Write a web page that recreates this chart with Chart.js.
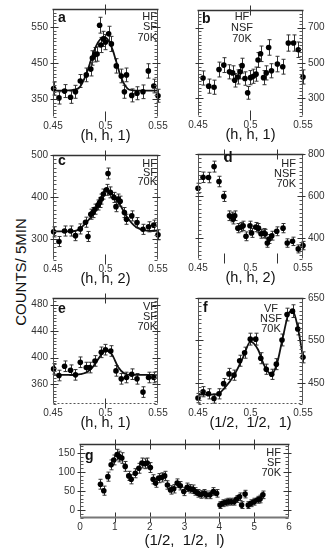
<!DOCTYPE html>
<html><head><meta charset="utf-8">
<script src="https://cdn.jsdelivr.net/npm/chart.js@4/dist/chart.umd.min.js"></script>
<style>
html,body{margin:0;padding:0;background:#fff;width:332px;height:548px;overflow:hidden;position:relative}
canvas{position:absolute}
#ylab{position:absolute;left:20px;top:272px;font:15px "Liberation Sans",Arial,sans-serif;color:#111;transform:translate(-50%,-50%) rotate(-90deg);white-space:nowrap}
</style></head><body>
<div id="ylab">COUNTS/ 5MIN</div>
<canvas id="ca"></canvas><canvas id="cb"></canvas><canvas id="cc"></canvas><canvas id="cd"></canvas><canvas id="ce"></canvas><canvas id="cf"></canvas><canvas id="cg"></canvas>
<script>
// ---------- DATA ----------
const hTickValues = [0.45, 0.5, 0.55];
const hTickLabels = ['0.45', '0.5', '0.55'];
const lTickValues = [0, 1, 2, 3, 4, 5, 6];
const lTickLabels = ['0', '1', '2', '3', '4', '5', '6'];

// panel a : HF SF 70K (h,h,1)
const aH = [0.4506,0.4557,0.461,0.4667,0.4714,0.476,0.4817,0.486,0.4875,0.4897,0.492,0.4944,0.4955,0.498,0.5,0.503,0.5056,0.5103,0.515,0.518,0.52,0.525,0.53,0.5357,0.5408,0.546,0.55];
const aCounts = [379,353,372,355,370,400,417,433,464,473,475,555,500,517,508,531,503,442,414,370,417,360,366,370,428,386,359];
const aErr = [18,17,18,17,18,18,19,19,20,20,20,22,21,21,21,21,21,20,19,18,19,18,18,19,20,19,18];
const aFitH = [0.45,0.465,0.47,0.4755,0.4817,0.4865,0.491,0.495,0.499,0.503,0.507,0.51,0.515,0.521,0.526,0.532,0.55];
const aFitCounts = [373,374,376,383,419,461,497,516,522,512,485,456,409,379,374,373,373];
const aYTicks = [350, 450, 550];

// panel b : HF NSF 70K (h,h,1)
const bH = [0.4548,0.4602,0.4653,0.47,0.4746,0.48,0.483,0.485,0.4877,0.49,0.492,0.4947,0.4973,0.5,0.5027,0.5053,0.5072,0.5096,0.5124,0.515,0.5173,0.52,0.5256,0.5307,0.536,0.541,0.5455,0.55];
const bCounts = [415,369,363,463,488,450,444,402,421,450,485,412,331,417,425,437,517,552,417,444,588,456,494,479,613,613,575,421];
const bErr = [40,40,40,42,42,40,40,38,40,40,42,38,36,40,40,40,42,44,40,40,44,40,44,42,46,46,44,40];
const bYTicks = [300, 500, 700];

// panel c : HF SF 70K (h,h,2)
const cH = [0.4506,0.4557,0.461,0.4667,0.4714,0.476,0.481,0.4833,0.486,0.488,0.49,0.4929,0.4944,0.496,0.498,0.501,0.5024,0.5046,0.508,0.51,0.5119,0.514,0.518,0.52,0.525,0.53,0.5357,0.541,0.546,0.55];
const cCounts = [317,294,319,319,308,324,340,306,359,363,371,381,387,395,407,417,456,411,399,377,395,390,363,347,355,339,323,329,333,310];
const cErr = [12,12,12,12,12,12,12,12,12,12,12,12,12,12,12,13,13,13,12,12,12,12,12,12,12,12,12,12,12,12];
const cFitH = [0.45,0.465,0.4722,0.4817,0.4913,0.5,0.5056,0.5143,0.5206,0.5294,0.5389,0.55];
const cFitCounts = [318,318,320,339,371,415,409,379,352,328,320,319];
const cYTicks = [300, 400, 500];

// panel d : HF NSF 70K (h,h,2)
const dH = [0.45,0.4548,0.46,0.4653,0.47,0.4746,0.48,0.482,0.4835,0.485,0.488,0.491,0.493,0.4957,0.4995,0.501,0.505,0.5076,0.51,0.5124,0.514,0.516,0.5177,0.5203,0.525,0.531,0.535,0.54,0.5455,0.55];
const dCounts = [637,689,688,740,669,598,506,500,490,506,447,452,458,408,458,424,452,447,420,424,420,376,395,411,432,447,376,384,348,364];
const dErr = [24,25,25,26,25,24,23,23,23,23,22,22,22,21,22,21,22,22,21,21,21,20,21,21,21,22,20,20,19,20];
const dYTicks = [400, 600, 800];

// panel e : VF SF 70K (h,h,1)
const eH = [0.4506,0.4557,0.461,0.4667,0.4714,0.476,0.4817,0.485,0.49,0.496,0.5,0.505,0.51,0.515,0.52,0.525,0.53,0.5357,0.541,0.546];
const eCounts = [383,373,387,381,374,393,385,385,395,408,412,410,380,368,370,375,368,348,370,370];
const eErr = [8,8,8,8,8,8,8,8,8,8,8,8,8,8,8,8,8,8,8,8];
const eFitH = [0.45,0.47,0.476,0.482,0.488,0.494,0.5,0.506,0.512,0.518,0.524,0.55];
const eFitCounts = [374,374,375,378,386,400,411,405,386,376,374,374];
const eYTicks = [360, 400, 440, 480];

// panel f : VF NSF 70K (1/2,1/2,1)
const fH = [0.45,0.4548,0.46,0.4652,0.47,0.4744,0.4795,0.4843,0.4897,0.4944,0.4998,0.505,0.5098,0.515,0.5202,0.5246,0.53,0.5348,0.54,0.545,0.55];
const fCounts = [414,429,424,413,424,448,471,468,502,521,553,553,508,482,470,494,551,611,619,577,510];
const fErr = [11,12,12,11,12,12,13,12,13,13,14,14,13,12,12,13,14,15,15,14,13];
const fFitH = [0.45,0.4676,0.4754,0.4849,0.4929,0.5,0.507,0.5133,0.5197,0.5251,0.5308,0.5371,0.5403,0.545,0.55];
const fFitCounts = [422,422,438,470,510,547,529,490,470,494,557,617,619,581,510];
const fYTicks = [450, 550, 650];

// panel g : HF SF 70K (1/2,1/2,l)
const gL = [0.588,0.683,0.8,0.894,0.97,1.067,1.13,1.2,1.298,1.4,1.47,1.587,1.69,1.78,1.856,1.93,2.02,2.1,2.17,2.26,2.35,2.43,2.51,2.6,2.69,2.79,2.88,2.98,3.08,3.15,3.23,3.31,3.39,3.47,3.56,3.63,3.73,3.83,3.92,4.02,4.1,4.18,4.26,4.33,4.42,4.5,4.58,4.64,4.74,4.83,4.91,5.0,5.1,5.17,5.25];
const gCounts = [68,51,88,119,132,146,141,137,115,90,81,97,110,124,122,124,112,81,71,84,86,90,66,53,56,71,64,49,60,56,55,49,44,41,44,40,40,49,44,13,18,20,22,22,22,29,35,13,42,13,18,22,27,29,40];
const gErr = [13,12,12,13,13,14,14,14,13,12,12,12,13,13,13,13,13,12,11,12,12,12,11,11,11,11,11,11,11,11,11,10,10,10,10,10,10,10,10,9,9,9,9,9,9,9,10,9,10,9,9,9,9,10,10];
const gYTicks = [0, 50, 100, 150];

// ---------- DRAWING ----------
const FAM = '"Liberation Sans", Arial, sans-serif';

const panels = [
 {id:'ca', area:[53,9,158,117], xmin:0.45,xmax:0.55, ymin:300,ymax:600, x:aH,y:aCounts,err:aErr, fx:aFitH,fy:aFitCounts,
  xt:hTickValues,xl:hTickLabels, yt:aYTicks, side:'left', minor:10, xMarks:[0.5], bottom:'none', title:'(h, h, 1)', tsize:14.5, toff:19,
  letter:['a',58,22], notes:{lines:['HF','SF','70K'],x:157,y:[20,30,41],align:'right'}},
 {id:'cb', area:[198,10,303,116], xmin:0.45,xmax:0.55, ymin:200,ymax:800, x:bH,y:bCounts,err:bErr,
  xt:hTickValues,xl:hTickLabels, yt:bYTicks, side:'right', minor:20, xMarks:[0.5], bottom:'none', title:'(h, h, 1)', tsize:14.5, toff:19,
  letter:['b',202,23], notes:{lines:['HF','NSF','70K'],x:242,y:[20,31,42],align:'center'}},
 {id:'cc', area:[53,155,158,260], xmin:0.45,xmax:0.55, ymin:250,ymax:500, x:cH,y:cCounts,err:cErr, fx:cFitH,fy:cFitCounts,
  xt:hTickValues,xl:hTickLabels, yt:cYTicks, side:'left', minor:10, xMarks:[0.5], bottom:'none', title:'(h, h, 2)', tsize:14.5, toff:19,
  letter:['c',58,165], notes:{lines:['HF','SF','70K'],x:157,y:[167,176,185],align:'right'}},
 {id:'cd', area:[198,154,303,259], xmin:0.45,xmax:0.55, ymin:300,ymax:800, x:dH,y:dCounts,err:dErr,
  xt:hTickValues,xl:hTickLabels, yt:dYTicks, side:'right', minor:20, xMarks:[0.475,0.525], bottom:'none', title:'(h, h, 2)', tsize:14.5, toff:19,
  letter:['d',224,162], notes:{lines:['HF','NSF','70K'],x:296,y:[167,177,187],align:'right'}},
 {id:'ce', area:[53,298,158,404], xmin:0.45,xmax:0.55, ymin:330,ymax:490, x:eH,y:eCounts,err:eErr, fx:eFitH,fy:eFitCounts,
  xt:hTickValues,xl:hTickLabels, yt:eYTicks, side:'left', minor:5, xMarks:[0.5], bottom:'dashed', title:'(h, h, 1)', tsize:14.5, toff:19,
  letter:['e',58,313], notes:{lines:['VF','SF','70K'],x:157,y:[310,320,330],align:'right'}},
 {id:'cf', area:[198,298,303,404], xmin:0.45,xmax:0.55, ymin:400,ymax:650, x:fH,y:fCounts,err:fErr, fx:fFitH,fy:fFitCounts,
  xt:hTickValues,xl:hTickLabels, yt:fYTicks, side:'right', minor:10, xMarks:[], bottom:'dashed', title:'(1/2,  1/2,  1)', tsize:14.5, toff:19,
  letter:['f',203,312], notes:{lines:['VF','NSF','70K'],x:271,y:[312,322,332],align:'center'}},
 {id:'cg', area:[80,444,289,518], xmin:0,xmax:6, ymin:-21,ymax:174, x:gL,y:gCounts,err:gErr,
  xt:lTickValues,xl:lTickLabels, yt:gYTicks, side:'left', minor:10, xMarks:[1,2,3,4,5], bottom:'solid', title:'(1/2,  1/2,  l)', tsize:15, toff:22,
  letter:['g',85,460], notes:{lines:['HF','SF','70K'],x:281,y:[456,466,476],align:'right'}},
];

function makeFrame(p, cl, ct) {
  return {
    id: 'frame',
    beforeDatasetsDraw(chart) {
      const {ctx, scales: {x, y}} = chart;
      ctx.save();
      ctx.strokeStyle = '#333'; ctx.lineWidth = 1;
      for (let i = 0; i < p.x.length; i++) {
        const px = Math.round(x.getPixelForValue(p.x[i])) + 0.5;
        const y1 = y.getPixelForValue(p.y[i] + p.err[i]);
        const y2 = y.getPixelForValue(p.y[i] - p.err[i]);
        ctx.beginPath();
        ctx.moveTo(px, y1); ctx.lineTo(px, y2);
        ctx.moveTo(px - 2, y1); ctx.lineTo(px + 2, y1);
        ctx.moveTo(px - 2, y2); ctx.lineTo(px + 2, y2);
        ctx.stroke();
      }
      ctx.restore();
    },
    afterDraw(chart) {
      const {ctx, chartArea: {left, right, top, bottom}, scales: {x, y}} = chart;
      const L = Math.round(left) + 0.5, R = Math.round(right) - 0.5;
      const T = Math.round(top) + 0.5, B = Math.round(bottom) - 0.5;
      ctx.save();
      // side axes
      ctx.strokeStyle = '#555'; ctx.lineWidth = 1;
      ctx.beginPath();
      ctx.moveTo(L, T); ctx.lineTo(L, B);
      ctx.moveTo(R, T); ctx.lineTo(R, B);
      ctx.stroke();
      // minor ticks
      ctx.beginPath();
      for (let v = Math.ceil(p.ymin / p.minor) * p.minor; v <= p.ymax; v += p.minor) {
        const py = Math.round(y.getPixelForValue(v)) + 0.5;
        ctx.moveTo(L, py); ctx.lineTo(L + 3, py);
        ctx.moveTo(R, py); ctx.lineTo(R - 3, py);
      }
      ctx.stroke();
      // major ticks (crossing)
      ctx.strokeStyle = '#333';
      ctx.beginPath();
      p.yt.forEach(v => {
        const py = Math.round(y.getPixelForValue(v)) + 0.5;
        ctx.moveTo(L - 3, py); ctx.lineTo(L + 5, py);
        ctx.moveTo(R + 3, py); ctx.lineTo(R - 5, py);
      });
      p.xMarks.forEach(v => {
        const px = Math.round(x.getPixelForValue(v)) + 0.5;
        ctx.moveTo(px, T - 5); ctx.lineTo(px, T + 5);
        ctx.moveTo(px, B - 5); ctx.lineTo(px, B + 5);
      });
      ctx.stroke();
      // top line
      ctx.strokeStyle = '#333'; ctx.lineWidth = 1.6;
      ctx.beginPath(); ctx.moveTo(L - 1, T); ctx.lineTo(R + 1, T); ctx.stroke();
      // bottom line
      if (p.bottom === 'dashed') {
        ctx.lineWidth = 1; ctx.strokeStyle = '#555'; ctx.setLineDash([2, 2]);
        ctx.beginPath(); ctx.moveTo(L, B); ctx.lineTo(R, B); ctx.stroke();
        ctx.setLineDash([]);
      } else if (p.bottom === 'solid') {
        ctx.lineWidth = 2; ctx.strokeStyle = '#777';
        ctx.beginPath(); ctx.moveTo(L, B); ctx.lineTo(R, B); ctx.stroke();
      }
      // texts
      ctx.fillStyle = '#111';
      ctx.textBaseline = 'alphabetic';
      ctx.font = 'bold 14px ' + FAM;
      ctx.textAlign = 'left';
      ctx.fillText(p.letter[0], p.letter[1] - cl, p.letter[2] - ct);
      ctx.font = '11px ' + FAM;
      ctx.fillStyle = '#222';
      ctx.textAlign = p.notes.align;
      p.notes.lines.forEach((s, i) => ctx.fillText(s, p.notes.x - cl, p.notes.y[i] - ct));
      ctx.restore();
    }
  };
}

const padL = 40, padR = 40, padT = 14;
panels.forEach(p => {
  const W = p.area[2] - p.area[0], H = p.area[3] - p.area[1];
  const padB = Math.round(p.toff + p.tsize / 2 + 2);
  const cv = document.getElementById(p.id);
  cv.width = W + padL + padR; cv.height = H + padT + padB;
  const cl = p.area[0] - padL, ct = p.area[1] - padT;
  cv.style.left = cl + 'px'; cv.style.top = ct + 'px';
  const datasets = [];
  datasets.push({type: 'scatter', data: p.x.map((v, i) => ({x: v, y: p.y[i]})),
    pointRadius: 2.8, pointHoverRadius: 2.8, backgroundColor: '#000', borderColor: '#000', borderWidth: 0, clip: false, order: 1});
  if (p.fx) datasets.push({type: 'line', data: p.fx.map((v, i) => ({x: v, y: p.fy[i]})),
    borderColor: '#111', borderWidth: 1.8, pointRadius: 0, cubicInterpolationMode: 'monotone', fill: false, clip: false, order: 2});
  new Chart(cv, {
    data: {datasets},
    options: {
      responsive: false, animation: false, devicePixelRatio: 1,
      layout: {padding: {left: p.side === 'left' ? 0 : padL, right: p.side === 'right' ? 0 : padR, top: padT, bottom: 0}},
      plugins: {legend: {display: false}, tooltip: {enabled: false}},
      scales: {
        x: {type: 'linear', position: 'bottom', min: p.xmin, max: p.xmax,
          afterBuildTicks: s => { s.ticks = p.xt.map(v => ({value: v})); },
          ticks: {callback: v => p.xl[p.xt.indexOf(v)], autoSkip: false, maxRotation: 0, padding: 3,
            font: {family: FAM, size: 10}, color: '#333'},
          grid: {display: false, drawTicks: false}, border: {display: false},
          title: {display: true, text: p.title, color: '#111', font: {family: FAM, size: p.tsize, lineHeight: 1}, padding: {top: 0, bottom: 2}},
          afterFit: s => { s.height = padB; }},
        y: {type: 'linear', position: p.side, min: p.ymin, max: p.ymax,
          afterBuildTicks: s => { s.ticks = p.yt.map(v => ({value: v})); },
          ticks: {callback: v => String(v), autoSkip: false, padding: 5, font: {family: FAM, size: 10}, color: '#333'},
          grid: {display: false, drawTicks: false}, border: {display: false},
          afterFit: s => { s.width = p.side === 'left' ? padL : padR; }}
      }
    },
    plugins: [makeFrame(p, cl, ct)]
  });
});
</script>
</body></html>
